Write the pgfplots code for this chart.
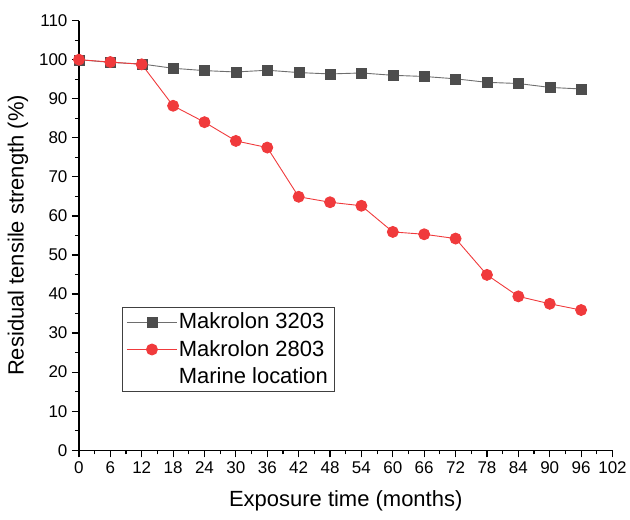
\documentclass[border=0pt]{standalone}
\usepackage{fontspec}
\setmainfont{Liberation Sans}
\usepackage{pgfplots}
\pgfplotsset{compat=1.18}
\definecolor{myred}{RGB}{240,58,60}
\definecolor{mygray}{RGB}{77,77,77}
\definecolor{lgray}{RGB}{110,110,110}
\begin{document}
\begin{tikzpicture}
\begin{axis}[
  scale only axis, width=534pt, height=430pt,
  xmin=0, xmax=102, ymin=0, ymax=110,
  axis lines=left,
  axis line style={black, line width=1.4pt, -},
  xtick={0,6,...,102}, ytick={0,10,...,110},
  minor x tick num=1, minor y tick num=1,
  tick align=outside,
  major tick length=7pt, minor tick length=4pt,
  tick style={black, line width=1.2pt},
  /pgf/number format/assume math mode=true,
  tick label style={font=\fontsize{17}{20}\selectfont},
  xticklabel style={yshift=-1pt},
  yticklabel style={xshift=-1pt},
  xlabel={Exposure time (months)},
  ylabel={Residual tensile strength (\%)},
  label style={font=\fontsize{22}{26}\selectfont},
  xlabel style={yshift=-10pt},
  ylabel style={yshift=4pt},
  clip=false,
  legend cell align=left,
  legend style={at={(rel axis cs:0.08,0.3335)}, anchor=north west,
    font=\fontsize{22}{26}\selectfont, draw=black!75, line width=0.8pt,
    inner xsep=4.5pt, inner ysep=4pt, row sep=6pt,
    nodes={inner sep=1.5pt, text depth=0.25em}},
  legend image code/.code={\draw[mark repeat=2,mark phase=2] plot coordinates {(0pt,0pt)(25pt,0pt)(50pt,0pt)};},
]
\addplot[lgray, line width=0.9pt, mark=square*, mark size=5pt,
  mark options={draw=mygray, fill=mygray, line width=0.3pt, solid}] coordinates {
  (0,100) (6,99.3) (12,98.9) (18,97.8) (24,97.2) (30,96.85) (36,97.3)
  (42,96.7) (48,96.35) (54,96.6) (60,96.0) (66,95.7) (72,95.1)
  (78,94.2) (84,93.9) (90,92.9) (96,92.5)};
\addlegendentry{Makrolon 3203}
\addplot[myred, line width=0.9pt, mark=*, mark size=5.5pt,
  mark options={draw=myred, fill=myred, solid}] coordinates {
  (0,100) (6,99.4) (12,98.8) (18,88.2) (24,84.0) (30,79.2) (36,77.5)
  (42,64.9) (48,63.5) (54,62.6) (60,55.9) (66,55.3) (72,54.2)
  (78,44.9) (84,39.4) (90,37.5) (96,35.9)};
\addlegendentry{Makrolon 2803}
\addlegendimage{empty legend}
\addlegendentry{Marine location}
\path (rel axis cs:-0.148,-0.161) rectangle (rel axis cs:1.032,1.048);
\end{axis}
\end{tikzpicture}
\end{document}
